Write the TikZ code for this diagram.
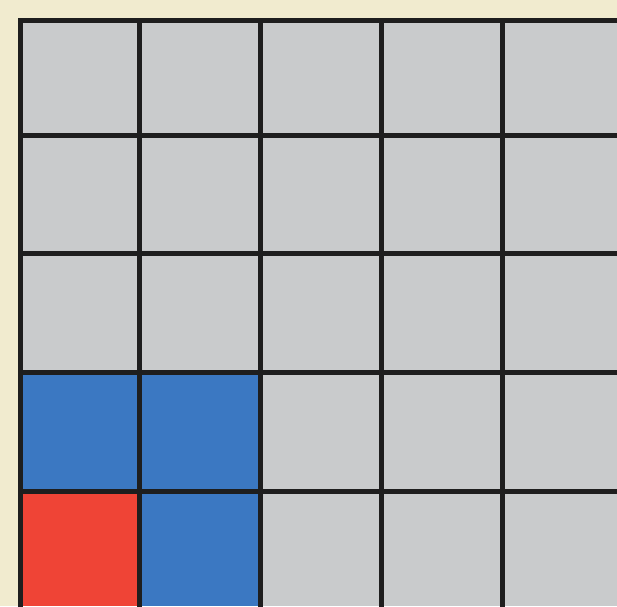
\documentclass[tikz,border=0pt]{standalone}
\definecolor{paper}{HTML}{F1EBCF}
\definecolor{cellgray}{HTML}{C9CBCC}
\definecolor{cellblue}{HTML}{3B78C2}
\definecolor{cellred}{HTML}{EF4436}
\definecolor{gridline}{HTML}{1E1E1E}
\tikzset{gridrule/.style={draw=gridline,line width=5pt,line cap=rect}}
\begin{document}
\begin{tikzpicture}[x=1pt,y=-1pt]
\fill[paper] (0,0) rectangle (617,606);
\useasboundingbox (0,0) rectangle (617,606);
\fill[cellgray] (20,20) rectangle (617,606);
\fill[cellblue] (20,372) rectangle (260,491);
\fill[cellblue] (139,491) rectangle (260,606);
\fill[cellred] (20,491) rectangle (139,606);
\foreach \x in {20,139,260,381,502} \draw[gridrule] (\x,20) -- (\x,610);
\foreach \y in {20,135,253,372,491} \draw[gridrule] (20,\y) -- (621,\y);
\end{tikzpicture}
\end{document}
